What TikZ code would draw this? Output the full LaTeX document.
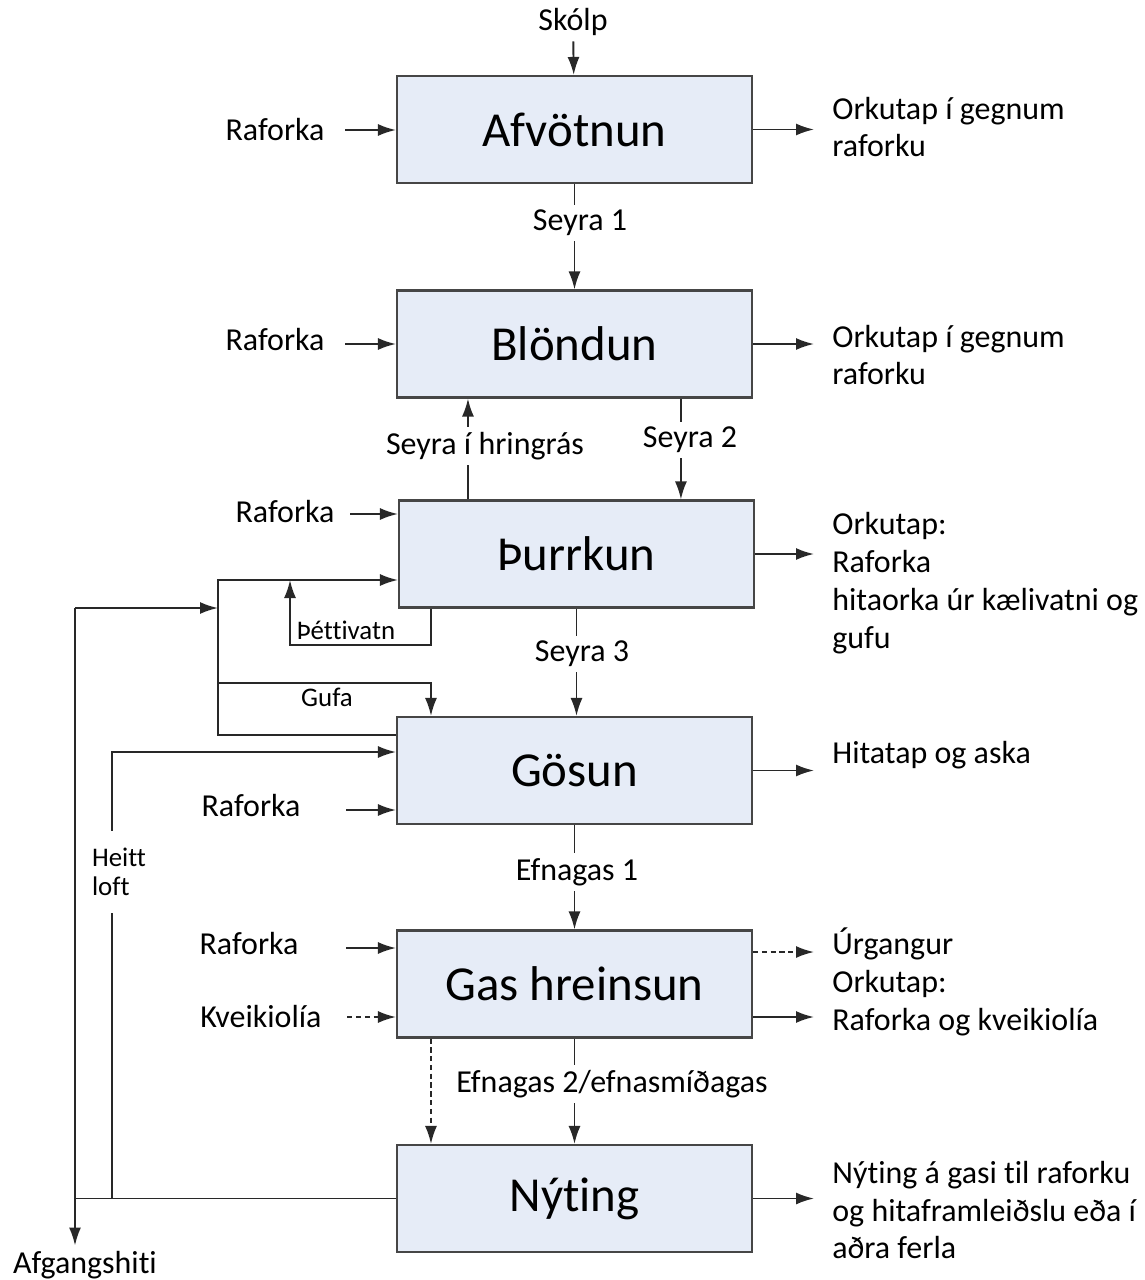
\documentclass[tikz,border=0pt]{standalone}
\usepackage{fontspec}
\setmainfont{Carlito}[Ligatures={NoCommon}]
\usetikzlibrary{arrows.meta}
\definecolor{boxfill}{RGB}{230,236,247}
\definecolor{boxline}{RGB}{70,70,70}
\definecolor{linecol}{RGB}{40,40,40}
\tikzset{
  box/.style={draw=boxline, fill=boxfill, line width=1.2pt, minimum width=7.1cm, minimum height=2.14cm, font=\fontsize{27.8}{32}\selectfont},
  lbl/.style={font=\fontsize{18.2}{21.5}\selectfont, inner sep=3pt},
  small/.style={font=\fontsize{15.3}{16.5}\selectfont, inner sep=2pt},
  outtxt/.style={lbl, anchor=west, align=left, inner xsep=0.36cm},
  arr/.style={draw=linecol, line width=1.1pt, -{Latex[length=3.6mm,width=2.4mm]}},
  darr/.style={arr, densely dashed},
  ln/.style={draw=linecol, line width=1.1pt}
}
\begin{document}
\begin{tikzpicture}[x=0.02cm, y=-0.02cm]
    \useasboundingbox (0,0) rectangle (1144,1280);

    % process boxes
    \node[box] (afv) at (574.5,129.5) {Afvötnun};
    \node[box] (blo) at (574.5,344) {Blöndun};
    \node[box] (thu) at (576.5,554) {Þurrkun};
    \node[box] (gos) at (574.5,770.5) {Gösun};
    \node[box] (gas) at (574.5,984) {Gas hreinsun};
    \node[box] (nyt) at (574.5,1198.5) {Nýting};

    % inputs
    \node[lbl] (sko) at (573,22) {Skólp};
    \node[lbl] (rf1) at (275,130) {Raforka};
    \node[lbl] (rf2) at (275,340) {Raforka};
    \node[lbl] (rf3) at (285,512) {Raforka};
    \node[lbl] (rf4) at (251,806) {Raforka};
    \node[lbl] (rf5) at (249,944) {Raforka};
    \node[lbl] (kve) at (261,1017) {Kveikiolía};
    \node[lbl] (afg) at (85,1265) {Afgangshiti};

    % outputs
    \node[outtxt] (out1) at (814,127) {Orkutap í gegnum\\raforku};
    \node[outtxt] (out2) at (814,355) {Orkutap í gegnum\\raforku};
    \node[outtxt] (out3) at (814,583) {Orkutap:\\Raforka\\hitaorka úr kælivatni og\\gufu};
    \node[outtxt] (out4) at (814,755) {Hitatap og aska};
    \node[outtxt] (out5) at (814,982) {Úrgangur\\Orkutap:\\Raforka og kveikiolía};
    \node[outtxt] (out6) at (814,1210) {Nýting á gasi til raforku\\og hitaframleiðslu eða í\\aðra ferla};

    % junctions of the heat loops
    \coordinate (jA) at (218,580);
    \coordinate (jB) at (218,683);
    \coordinate (jC) at (218,735);
    \coordinate (jD) at (218,608);
    \coordinate (wT) at (75,608);
    \coordinate (hN) at (112,1198.5);
    \coordinate (hT) at (112,752);
    \coordinate (tB) at (290,645);
    \coordinate (tC) at (290,580);

    % main flow
    \draw[arr] (sko) -- (afv);
    \draw[arr] (afv) -- (blo);
    \draw[arr] ([xshift=5.7cm]blo.south west) -- ([xshift=5.7cm]blo.south west |- thu.north);
    \draw[arr] ([xshift=1.4cm]thu.north west) -- ([xshift=1.4cm]thu.north west |- blo.south);
    \draw[arr] (thu.south) -- (thu.south |- gos.north);
    \draw[arr] (gos) -- (gas);
    \draw[arr] (gas) -- (nyt);
    \draw[darr] ([xshift=0.7cm]gas.south west) -- ([xshift=0.7cm]gas.south west |- nyt.north);

    % side inputs
    \draw[arr] ([xshift=0.3cm]rf1.east) -- (rf1.east -| afv.west);
    \draw[arr] ([xshift=0.3cm]rf2.east |- blo.west) -- (blo.west);
    \draw[arr] ([xshift=0.2cm,yshift=-0.04cm]rf3.east) -- ([yshift=-0.04cm]rf3.east -| thu.west);
    \draw[arr] ([xshift=0.8cm,yshift=-0.08cm]rf4.east) -- ([yshift=-0.08cm]rf4.east -| gos.west);
    \draw[arr] ([xshift=0.84cm,yshift=-0.08cm]rf5.east) -- ([yshift=-0.08cm]rf5.east -| gas.west);
    \draw[darr] ([xshift=0.4cm]kve.east) -- (kve.east -| gas.west);

    % side outputs
    \draw[arr] (afv.east) -- (afv.east -| out1.west);
    \draw[arr] (blo.east) -- (blo.east -| out2.west);
    \draw[arr] (thu.east) -- (thu.east -| out3.west);
    \draw[arr] (gos.east) -- (gos.east -| out4.west);
    \draw[darr] ([yshift=0.64cm]gas.east) -- ([yshift=0.64cm]gas.east -| out5.west);
    \draw[arr] ([yshift=-0.66cm]gas.east) -- ([yshift=-0.66cm]gas.east -| out5.west);
    \draw[arr] (nyt.east) -- (nyt.east -| out6.west);

    % steam and condensate loop
    \draw[arr] (gos.west |- jC) -- (jC) -- (jA) -- (jA -| thu.west);
    \draw[arr] (jB) -| ([xshift=0.7cm]gos.north west);
    \draw[arr] ([xshift=0.66cm]thu.south west) |- (tB) -- (tC);
    \node[small] (gufa) at (327,697) {Gufa};
    \node[small] (tve) at (346,630) {Þéttivatn};

    % hot air and waste heat
    \draw[ln] (nyt.west) -- (nyt.west -| wT);
    \draw[arr] (wT) -- (wT |- afg.north);
    \draw[arr] (wT) -- (jD);
    \draw[arr] (hN) |- (gos.west |- hT);
    \node[small, fill=white, align=left, inner ysep=10pt] (heit) at (119,872) {Heitt\\loft};

    % flow labels
    \node[lbl, fill=white] (s1) at (580,223) {Seyra 1};
    \node[lbl, fill=white] (sh) at (485,446) {Seyra í hringrás};
    \node[lbl, fill=white] (s2) at (690,440) {Seyra 2};
    \node[lbl, fill=white] (s3) at (582,654) {Seyra 3};
    \node[lbl, fill=white] (e1) at (577,872) {Efnagas 1};
    \node[lbl, fill=white] (e2) at (612,1084) {Efnagas 2/efnasmíðagas};
\end{tikzpicture}
\end{document}
